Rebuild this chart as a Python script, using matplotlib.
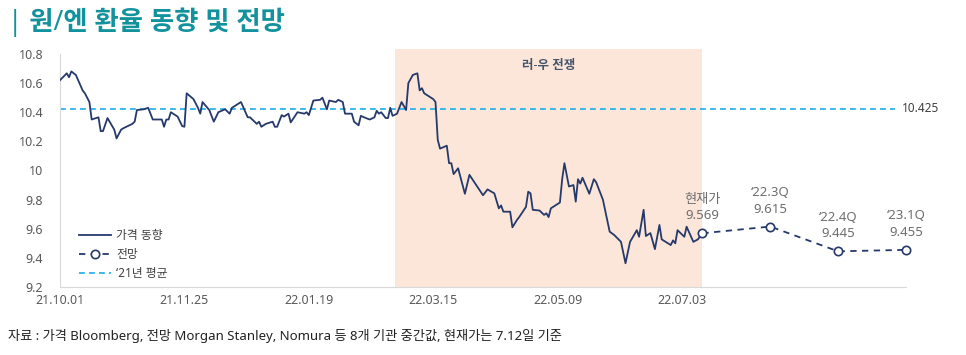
import pandas as pd
import matplotlib.pyplot as plt

plt.rcParams['font.family'] = ['Noto Sans', 'Noto Sans CJK KR', 'DejaVu Sans']

# 원/엔 환율 (100엔당), 2021-10-01 기준 경과일
start = pd.Timestamp('2021-10-01')
price_day = [0, 3, 4, 5, 7, 10, 11, 13, 14, 16,
             17, 18, 19, 21, 24, 25, 27, 28, 30, 32,
             33, 34, 37, 39, 41, 45, 46, 47, 48, 49,
             52, 54, 55, 56, 59, 61, 62, 63, 66, 68,
             70, 73, 75, 76, 80, 83, 84, 87, 88, 89,
             91, 94, 95, 96, 98, 99, 101, 102, 105, 108,
             109, 110, 112, 115, 116, 118, 119, 122, 123, 125,
             126, 129, 130, 132, 133, 136, 137, 139, 140, 141,
             142, 144, 145, 146, 147, 149, 151, 153, 154, 156,
             158, 159, 160, 161, 165, 166, 167, 168, 171, 172,
             173, 174, 176, 179, 181, 184, 187, 189, 192, 194,
             195, 196, 199, 200, 202, 203, 206, 207, 208, 209,
             212, 214, 215, 216, 217, 220, 221, 222, 223, 225,
             227, 228, 229, 230, 231, 234, 236, 237, 240, 243,
             245, 248, 250, 252, 255, 256, 258, 259, 261, 263,
             265, 266, 270, 271, 272, 273, 276, 277, 280, 282,
             284]
price_val = [10.62, 10.667, 10.64, 10.68, 10.656, 10.55, 10.53, 10.47, 10.35, 10.36,
             10.365, 10.27, 10.27, 10.36, 10.28, 10.22, 10.28, 10.29, 10.305, 10.32,
             10.335, 10.415, 10.42, 10.43, 10.35, 10.35, 10.30, 10.35, 10.35, 10.40,
             10.37, 10.305, 10.30, 10.53, 10.49, 10.43, 10.39, 10.47, 10.415, 10.335,
             10.40, 10.42, 10.39, 10.43, 10.47, 10.365, 10.365, 10.32, 10.335, 10.30,
             10.32, 10.335, 10.30, 10.30, 10.38, 10.37, 10.39, 10.33, 10.40, 10.39,
             10.40, 10.38, 10.48, 10.485, 10.50, 10.42, 10.48, 10.47, 10.485, 10.47,
             10.39, 10.39, 10.335, 10.31, 10.375, 10.355, 10.35, 10.365, 10.41, 10.39,
             10.40, 10.36, 10.36, 10.43, 10.375, 10.39, 10.47, 10.415, 10.60, 10.656,
             10.667, 10.55, 10.565, 10.53, 10.49, 10.47, 10.21, 10.15, 10.17, 10.05,
             10.05, 9.975, 10.015, 9.84, 9.97, 9.90, 9.83, 9.87, 9.843, 9.74,
             9.76, 9.717, 9.717, 9.61, 9.66, 9.68, 9.75, 9.854, 9.843, 9.73,
             9.725, 9.695, 9.706, 9.68, 9.74, 9.77, 9.78, 9.94, 10.05, 9.89,
             9.90, 9.786, 9.94, 9.91, 9.95, 9.84, 9.94, 9.92, 9.80, 9.58,
             9.557, 9.51, 9.363, 9.51, 9.59, 9.545, 9.73, 9.55, 9.57, 9.46,
             9.626, 9.527, 9.488, 9.52, 9.50, 9.59, 9.545, 9.614, 9.51, 9.527,
             9.569]

fc_day = [284, 314, 344, 374]
fc_val = [9.569, 9.615, 9.445, 9.455]
fc_name = ['현재가', '‘22.3Q', '‘22.4Q', '‘23.1Q']

avg_2021 = 10.425
war_start, war_end = 148, 284

x_labels = ['21.10.01', '21.11.25', '22.01.19', '22.03.15', '22.05.09', '22.07.03']
y_ticks = [9.2, 9.4, 9.6, 9.8, 10.0, 10.2, 10.4, 10.6, 10.8]

navy = '#25396B'
gray = '#6E6E6E'

price_x = start + pd.to_timedelta(price_day, unit='D')
fc_x = start + pd.to_timedelta(fc_day, unit='D')

fig = plt.figure(figsize=(9.66, 3.55), dpi=100)
ax = fig.add_axes([60 / 966, 1 - 287 / 355, 846 / 966, 238 / 355])

ax.axvspan(start + pd.Timedelta(days=war_start), start + pd.Timedelta(days=war_end),
           color='#FBE6D9', lw=0, zorder=0)
ax.text(start + pd.Timedelta(days=(war_start + war_end) / 2), 10.72, '러-우 전쟁',
        ha='center', va='center', fontsize=9, color='#44546A', fontweight='bold')

ax.plot([start, start + pd.Timedelta(days=369)], [avg_2021, avg_2021], color='#1BAEE8',
        lw=1.2, ls=(0, (3.5, 2.5)), label='‘21년 평균', zorder=2)
ax.text(start + pd.Timedelta(days=372), avg_2021, f'{avg_2021:.3f}', va='center', ha='left',
        fontsize=8.5, color='#404040')

ax.plot(price_x, price_val, color=navy, lw=1.3, label='가격 동향', zorder=3)
ax.plot(fc_x, fc_val, color=navy, lw=1.3, ls=(0, (3.5, 3)), marker='o', ms=6,
        mfc='white', mec=navy, mew=1.2, label='전망', zorder=4, clip_on=False)

for xx, v, name in zip(fc_x, fc_val, fc_name):
    ax.annotate(f'{v:.3f}', (xx, v), xytext=(0, 12.5), textcoords='offset points',
                ha='center', va='center', fontsize=9.5, color=gray)
    ax.annotate(name, (xx, v), xytext=(0, 24.5), textcoords='offset points',
                ha='center', va='center', fontsize=9.5, color=gray)

ax.set_xlim(start, start + pd.Timedelta(days=374))
ax.set_ylim(9.2, 10.834)
ax.set_yticks(y_ticks)
ax.set_yticklabels([f'{v:g}' for v in y_ticks])
ax.set_xticks(pd.to_datetime(x_labels, format='%y.%m.%d'))
ax.set_xticklabels(x_labels)
ax.tick_params(axis='both', length=0, labelsize=9, colors='#595959')
ax.tick_params(axis='y', pad=12)
ax.tick_params(axis='x', pad=5)

for s in ['top', 'right']:
    ax.spines[s].set_visible(False)
for s in ['left', 'bottom']:
    ax.spines[s].set_color('#D9D9D9')
ax.spines['left'].set_bounds(9.2, 10.8)

handles, labels = ax.get_legend_handles_labels()
order = [1, 2, 0]
ax.legend([handles[i] for i in order], [labels[i] for i in order],
          loc='lower left', bbox_to_anchor=(0.01, -0.015), frameon=False, fontsize=8.5,
          handlelength=2.7, handletextpad=0.45, labelspacing=0.5, labelcolor='#404040')

fig.text(8 / 966, 1 - 22 / 355, '| 원/엔 환율 동향 및 전망', va='center', ha='left',
         fontsize=19, fontweight='bold', color='#12929C')
fig.text(8 / 966, 1 - 336 / 355,
         '자료 : 가격 Bloomberg, 전망 Morgan Stanley, Nomura 등 8개 기관 중간값, 현재가는 7.12일 기준',
         va='center', ha='left', fontsize=9.5, color='#222222')

fig.savefig('out.png', dpi=100)
